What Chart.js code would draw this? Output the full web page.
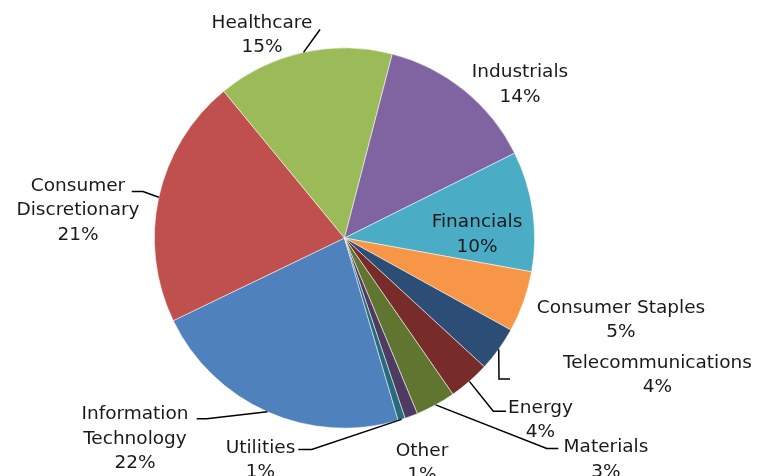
<!DOCTYPE html>
<html>
<head>
<meta charset="utf-8">
<script src="https://cdn.jsdelivr.net/npm/chart.js@4.4.1/dist/chart.umd.min.js"></script>
<style>
  body { margin: 0; background: #fff; }
  #wrap { width: 764px; height: 476px; position: relative; }
</style>
</head>
<body>
<div id="wrap"><canvas id="pie-canvas"></canvas></div>
<script>
// sector weights (percent)
var sectors = [
  ["Information", "Technology"],
  ["Consumer", "Discretionary"],
  ["Healthcare"],
  ["Industrials"],
  ["Financials"],
  ["Consumer Staples"],
  ["Telecommunications"],
  ["Energy"],
  ["Materials"],
  ["Other"],
  ["Utilities"]
];
var weights = [22.4, 21.2, 15.0, 13.6, 10.2, 5.2, 3.8, 3.5, 3.4, 1.1, 0.6];
var colors = ["#4F81BD", "#C0504D", "#9BBB59", "#8064A2", "#4BACC6", "#F79646",
              "#2C4D75", "#772C2A", "#5F7530", "#4D3B62", "#276A7C"];

// label placement, offsets from the pie centre (text = first line centre)
var labelLayout = [
  { text: [-209.5, 175.5], elbow: [-137.8, 180.8], endX: -147.8 },
  { text: [-266.5, -53],   elbow: [-201.5, -46.5], endX: -212.8 },
  { text: [-82.5, -216],   elbow: [-24.5, -208.5], endX: -24.5 },
  { text: [175.5, -166.5] },
  { text: [132.5, -16.5] },
  { text: [276.5, 69] },
  { text: [313, 124],      elbow: [154.5, 141],    endX: 165.5 },
  { text: [196, 169],      elbow: [148.8, 173.2],  endX: 161.5 },
  { text: [261.5, 208.5],  elbow: [202.2, 210.5],  endX: 213.8 },
  { text: [77.5, 212] },
  { text: [-84, 209],      elbow: [-32.8, 211.5],  endX: -46.2 }
];

var total = weights.reduce(function(a, b) { return a + b; }, 0);

var pieLabels = {
  id: "pieLabels",
  afterDatasetsDraw: function(chart) {
    var ctx = chart.ctx;
    var arcs = chart.getDatasetMeta(0).data;
    ctx.save();
    ctx.font = "18.5px 'DejaVu Sans'";
    ctx.textAlign = "center";
    ctx.textBaseline = "middle";
    arcs.forEach(function(arc, i) {
      var cx = arc.x, cy = arc.y;
      var lay = labelLayout[i];
      if (lay.elbow) {
        var mid = (arc.startAngle + arc.endAngle) / 2;
        var sx = cx + Math.cos(mid) * arc.outerRadius;
        var sy = cy + Math.sin(mid) * arc.outerRadius;
        ctx.beginPath();
        ctx.strokeStyle = "#000";
        ctx.lineWidth = 1.5;
        ctx.moveTo(sx, sy);
        ctx.lineTo(cx + lay.elbow[0], cy + lay.elbow[1]);
        ctx.lineTo(cx + lay.endX, cy + lay.elbow[1]);
        ctx.stroke();
      }
      var lines = sectors[i].concat([Math.round(weights[i] / total * 100) + "%"]);
      ctx.fillStyle = "#1a1a1a";
      lines.forEach(function(t, k) {
        ctx.fillText(t, cx + lay.text[0], cy + lay.text[1] + 1 + k * 24.5);
      });
    });
    ctx.restore();
  }
};

var ctx = document.getElementById("pie-canvas");
var chart = new Chart(ctx, {
  type: "pie",
  data: {
    labels: sectors.map(function(s) { return s.join(" "); }),
    datasets: [{
      data: weights,
      backgroundColor: colors,
      borderColor: "rgba(255,255,255,0.7)",
      borderWidth: 0.75
    }]
  },
  options: {
    responsive: true,
    maintainAspectRatio: false,
    animation: false,
    rotation: 163.6,
    layout: { padding: { top: 47, bottom: 47, left: 154, right: 229 } },
    plugins: {
      legend: { display: false },
      tooltip: { enabled: false }
    }
  },
  plugins: [pieLabels]
});
</script>
</body>
</html>
